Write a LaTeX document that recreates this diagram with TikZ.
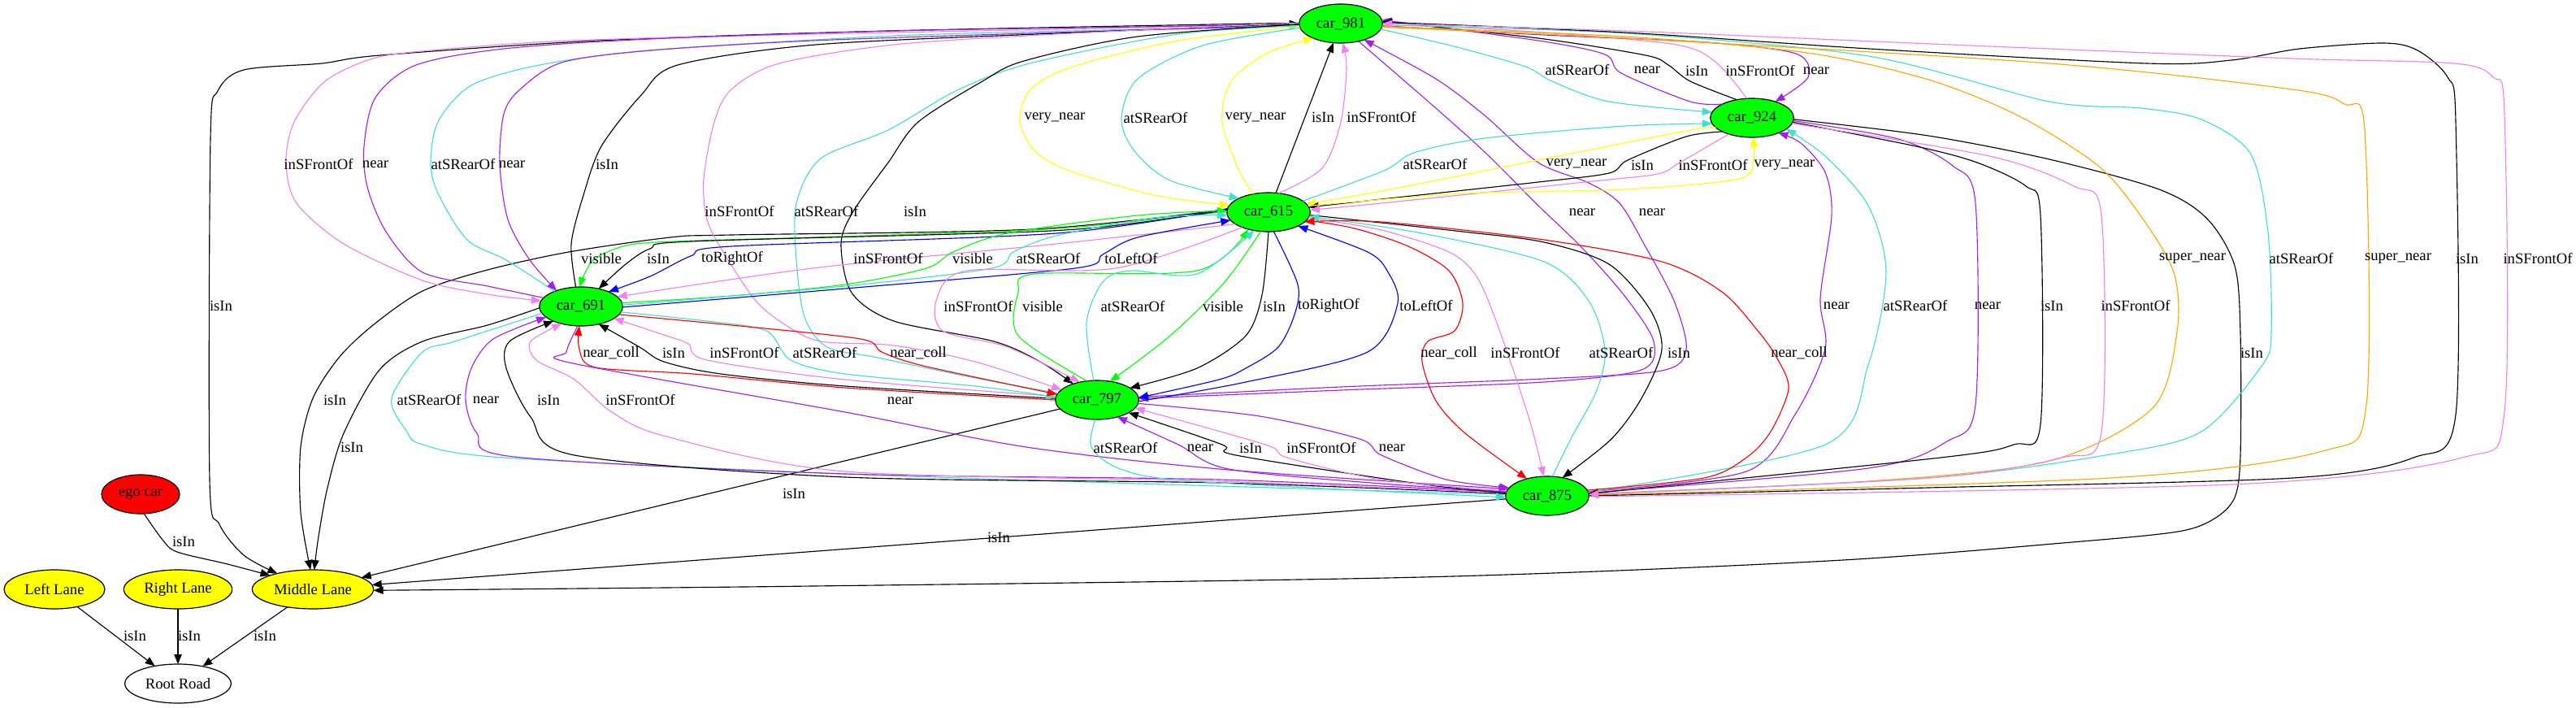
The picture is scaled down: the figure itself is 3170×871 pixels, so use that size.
\documentclass[tikz,border=0pt]{standalone}
\usepackage{fontspec}
\setmainfont{Liberation Serif}
\usetikzlibrary{arrows.meta,shapes.geometric}
\definecolor{gvpurple}{HTML}{A020F0}
\definecolor{gvviolet}{HTML}{EE82EE}
\definecolor{gvturq}{HTML}{40E0D0}
\definecolor{gvgreen}{HTML}{00FF00}
\definecolor{gvyellow}{HTML}{FFFF00}
\definecolor{gvorange}{HTML}{FFA500}
\definecolor{gvred}{HTML}{FF0000}
\definecolor{gvblue}{HTML}{0000FF}
\newcounter{lb}
\newcommand\edgelab[3]{\stepcounter{lb}\node[lbl] (lb\thelb) at (#1,#2) {#3};}
\begin{document}
\begin{tikzpicture}[x=0.75pt,y=-0.75pt,
  every node/.style={font=\fontsize{14}{16}\selectfont},
  gvnode/.style={ellipse,draw,line width=0.9pt,inner sep=0pt,outer sep=0pt,minimum height=36pt},
  car/.style={gvnode,fill=gvgreen,minimum width=77pt},
  lane/.style={gvnode,fill=gvyellow},
  lbl/.style={inner sep=0pt},
  e/.style={line width=0.85pt,-{Triangle[length=9pt,width=7pt]}},
  blk/.style={draw=black,color=black},
  vio/.style={color=gvviolet},
  pur/.style={color=gvpurple},
  tur/.style={color=gvturq},
  yel/.style={color=gvyellow},
  grn/.style={color=gvgreen},
  blu/.style={color=gvblue},
  rd/.style={color=gvred},
  ora/.style={color=gvorange}]
\useasboundingbox (0,0) rectangle (3170,871);
\fill[white] (0,0) rectangle (3170,871);

% nodes
\node[car] (c981) at (1650,29) {car\_981};
\node[car] (c924) at (2156,145) {car\_924};
\node[car] (c615) at (1561,261) {car\_615};
\node[car] (c691) at (715,377) {car\_691};
\node[car] (c797) at (1350,492) {car\_797};
\node[car] (c875) at (1904,610) {car\_875};
\node[gvnode,fill=gvred,minimum width=72pt] (ego) at (173,608) {ego car};
\node[lane,minimum width=93pt] (LL) at (67,725) {Left Lane};
\node[lane,minimum width=100pt] (RL) at (219,725) {Right Lane};
\node[lane,minimum width=112pt] (ML) at (385,725) {Middle Lane};
\node[gvnode,fill=white,minimum width=98pt] (RR) at (219,841) {Root Road};

% lanes
\draw[e] (LL) -- (RR);
\draw[e] (RL) -- (RR);
\draw[e] (ML) -- (RR);
\draw[e] plot[smooth] coordinates {(ego.-80) (200,664) (218,679) (280,694) (ML.162)};
\draw[e] (c797) -- (ML);
\draw[e] (c875) -- (ML);
\draw[e] plot[smooth] coordinates {(c981.179) (1093,38) (736,50) (468,68) (396,78) (300,86) (268,112) (259,170) (258,590) (270,645) (300,683) (ML.156)};
\draw[e] plot[smooth] coordinates {(c615.176) (1271,282) (900,289) (825,292) (700,310) (600,332) (520,358) (459,400) (417,440) (385,490) (370,550) (370,630) (ML.97)};
\draw[e] plot[smooth] coordinates {(c691.182) (600,400) (520,420) (467,455) (423,533) (403,600) (392,660) (ML.86)};
\draw[e] plot[smooth] coordinates {(c924.-2) (2373,167) (2522,196) (2657,233) (2716,269) (2750,327) (2757,410) (2757,560) (2750,612) (2725,638) (2680,654) (2550,667) (2250,690) (1750,710) (1000,721) (ML.-1)};

% 981-691
\draw[e,vio] plot[smooth] coordinates {(c981.180) (1300,36) (1000,42) (700,50) (530,62) (459,72) (400,100) (362,150) (352,200) (365,250) (423,300) (520,345) (600,362) (c691.172)};
\draw[e,pur] plot[smooth] coordinates {(c691.167) (600,352) (520,335) (475,285) (452,230) (448,180) (462,120) (512,80) (620,60) (800,48) (1100,38) (1400,33) (c981.181)};
\draw[e,tur] plot[smooth] coordinates {(c691.150) (623,320) (575,295) (540,240) (530,202) (539,150) (580,105) (664,80) (800,62) (1100,44) (1400,36) (c981.182)};
\draw[e,pur] plot[smooth] coordinates {(c981.183) (1300,40) (1000,50) (800,62) (691,77) (640,110) (620,140) (615,202) (625,270) (652,320) (c691.147)};
\draw[e,blk] plot[smooth] coordinates {(c691.105) (703,300) (718,240) (740,180) (789,117) (834,80) (1004,55) (1300,41) (c981.180)};

% 981-797
\draw[e,vio] plot[smooth] coordinates {(c981.179) (1300,42) (1100,55) (959,78) (900,110) (879,150) (866,220) (870,270) (890,310) (930,370) (967,400) (1010,420) (1100,425) (1200,445) (c797.164)};
\draw[e,tur] plot[smooth] coordinates {(c797.170) (1200,465) (1080,440) (1018,427) (990,390) (980,320) (980,250) (1010,195) (1093,160) (1180,110) (1271,77) (1450,42) (c981.183)};
\draw[e,blk] plot[smooth] coordinates {(c981.181) (1400,45) (1260,75) (1209,100) (1130,150) (1093,200) (1050,260) (1035,300) (1048,360) (1100,395) (1223,420) (1280,445) (c797.146)};
\draw[e,pur] plot[smooth] coordinates {(c981.-45) (1760,127) (1827,187) (1893,253) (1947,305) (2000,365) (2035,420) (2020,455) (1900,470) (1650,480) (c797.2)};
\draw[e,pur] plot[smooth] coordinates {(c797.4) (1650,476) (1900,466) (2045,456) (2075,430) (2060,370) (2023,300) (1993,250) (1955,225) (1893,200) (1827,142) (1767,97) (c981.-35)};

% 981-615
\draw[e,yel] plot[smooth] coordinates {(c981.184) (1450,50) (1320,82) (1268,110) (1255,150) (1275,187) (1316,210) (1420,240) (c615.170)};
\draw[e,tur] plot[smooth] coordinates {(c981.186) (1480,56) (1400,97) (1380,147) (1397,187) (1440,222) (c615.155)};
\draw[e,yel] plot[smooth] coordinates {(c615.130) (1525,210) (1504,150) (1515,100) (1560,65) (c981.-152)};
\draw[e,blk] (c615) -- (c981);
\draw[e,vio] plot[smooth] coordinates {(c615.62) (1627,207) (1650,150) (1657,83) (c981.-85)};

% 981-924
\draw[e,tur] plot[smooth] coordinates {(c981.-8) (1793,58) (1877,82) (1910,100) (1980,125) (c924.172)};
\draw[e,pur] plot[smooth] coordinates {(c924.155) (2080,125) (1995,90) (1975,67) (1893,50) (c981.5)};
\draw[e,blk] plot[smooth] coordinates {(c924.130) (2080,100) (2053,80) (2025,68) (1893,47) (c981.3)};
\draw[e,vio] plot[smooth] coordinates {(c924.105) (2112,77) (2063,55) (1900,40) (c981.1)};
\draw[e,pur] plot[smooth] coordinates {(c981.-3) (1900,43) (2100,52) (2210,66) (2225,95) (c924.35)};

% 615-924
\draw[e,tur] plot[smooth] coordinates {(c615.18) (1703,210) (1740,188) (1827,170) (2000,155) (c924.-172)};
\draw[e,yel] plot[smooth] coordinates {(c924.-165) (2080,160) (1893,197) (1700,235) (c615.12)};
\draw[e,blk] plot[smooth] coordinates {(c924.-155) (2075,168) (2003,197) (1980,213) (1893,224) (1700,245) (c615.7)};
\draw[e,vio] plot[smooth] coordinates {(c924.-145) (2067,200) (2040,214) (1960,223) (1700,250) (c615.3)};
\draw[e,yel] plot[smooth] coordinates {(c615.9) (1800,238) (2000,233) (2140,220) (2158,195) (c924.-88)};

% 981-875
\draw[e,ora] plot[smooth] coordinates {(c981.-4) (2000,45) (2224,65) (2373,98) (2485,143) (2582,204) (2634,265) (2675,335) (2679,408) (2649,502) (2522,567) (2299,592) (c875.3)};
\draw[e,tur] plot[smooth] coordinates {(c981.-2) (2000,41) (2299,69) (2522,125) (2634,133) (2709,147) (2770,190) (2791,286) (2795,408) (2784,449) (2709,531) (2597,559) (2373,588) (c875.2)};
\draw[e,ora] plot[smooth] coordinates {(c981.-5) (2000,47) (2522,78) (2821,110) (2885,128) (2910,160) (2912,498) (2858,555) (2597,588) (c875.1)};
\draw[e,blk] plot[smooth] coordinates {(c875.0) (2373,600) (2821,588) (2970,563) (3022,510) (3022,150) (3012,95) (2975,62) (2933,53) (2830,60) (2746,74) (2642,78) (2300,60) (2000,40) (c981.2)};
\draw[e,vio] plot[smooth] coordinates {(c875.-1) (2746,596) (3030,563) (3082,506) (3082,140) (3068,95) (3020,78) (2821,72) (2400,55) (2000,38) (c981.0)};

% 924-875
\draw[e,pur] plot[smooth] coordinates {(c875.6) (2149,580) (2209,510) (2246,429) (2240,367) (2254,265) (2246,212) (2216,176) (c924.-30)};
\draw[e,tur] plot[smooth] coordinates {(c875.5) (2246,547) (2299,449) (2321,335) (2299,253) (2246,192) (c924.-18)};
\draw[e,pur] plot[smooth] coordinates {(c924.-4) (2336,171) (2403,204) (2431,250) (2431,498) (2396,543) (2299,576) (c875.4)};
\draw[e,blk] plot[smooth] coordinates {(c924.-6) (2358,180) (2433,200) (2493,229) (2511,265) (2511,522) (2478,547) (2388,563) (c875.3)};
\draw[e,vio] plot[smooth] coordinates {(c924.-8) (2448,192) (2552,229) (2586,265) (2586,531) (2537,563) (2373,588) (c875.2)};

% 615-875
\draw[e,rd] plot[smooth] coordinates {(c615.-12) (1667,281) (1733,303) (1783,333) (1800,373) (1790,407) (1757,420) (1750,445) (1767,493) (1803,533) (c875.140)};
\draw[e,vio] plot[smooth] coordinates {(c615.-8) (1700,283) (1783,310) (1817,340) (1843,400) (1877,500) (1890,545) (c875.100)};
\draw[e,blk] plot[smooth] coordinates {(c615.-4) (1800,285) (1900,298) (1980,325) (2030,380) (2045,430) (2020,490) (1983,540) (c875.50)};
\draw[e,tur] plot[smooth] coordinates {(c875.75) (1933,540) (1965,480) (1975,430) (1955,370) (1900,322) (1750,287) (c615.-6)};
\draw[e,rd] plot[smooth] coordinates {(c875.8) (2097,588) (2149,563) (2179,531) (2201,478) (2187,441) (2164,408) (2119,359) (2045,322) (1900,295) (1700,273) (c615.-15)};

% 615-691
\draw[e,grn] plot[smooth] coordinates {(c615.179) (1400,272) (1271,283) (1000,292) (830,297) (771,302) (730,320) (c691.95)};
\draw[e,blk] plot[smooth] coordinates {(c615.177) (1400,274) (1271,285) (850,297) (800,306) (770,325) (c691.45)};
\draw[e,blu] plot[smooth] coordinates {(c615.175) (1300,287) (900,303) (850,315) (800,340) (c691.28)};
\draw[e,vio] plot[smooth] coordinates {(c615.-160) (1300,300) (1000,330) (c691.15)};
\draw[e,grn] plot[smooth] coordinates {(c691.5) (900,364) (1040,350) (1140,330) (1173,310) (1240,287) (1400,265) (c615.178)};
\draw[e,tur] plot[smooth] coordinates {(c691.2) (1040,352) (1220,330) (1247,310) (1300,290) (1420,268) (c615.-176)};
\draw[e,blu] plot[smooth] coordinates {(c691.-1) (1040,355) (1323,330) (1357,313) (1400,292) (c615.-168)};

% 615-797
\draw[e,vio] plot[smooth] coordinates {(c615.-150) (1373,330) (1190,333) (1153,367) (1160,407) (1240,427) (c797.134)};
\draw[e,grn] plot[smooth] coordinates {(c797.118) (1253,413) (1253,360) (1273,337) (1473,333) (c615.-140)};
\draw[e,tur] plot[smooth] coordinates {(c797.100) (1337,397) (1357,347) (1390,333) (1473,337) (c615.-128)};
\draw[e,grn] plot[smooth] coordinates {(c615.-112) (1507,347) (1440,413) (c797.55)};
\draw[e,blk] plot[smooth] coordinates {(c615.-90) (1553,363) (1533,413) (1473,453) (c797.20)};
\draw[e,blu] plot[smooth] coordinates {(c615.-75) (1597,350) (1593,387) (1573,427) (1533,453) (1500,467) (c797.3)};
\draw[e,blu] plot[smooth] coordinates {(c797.-2) (1533,470) (1683,433) (1720,373) (1707,333) (1683,310) (c615.-25)};

% 691-797
\draw[e,rd] plot[smooth] coordinates {(c797.180) (1040,477) (853,460) (733,452) (713,430) (c691.-95)};
\draw[e,blk] plot[smooth] coordinates {(c797.178) (1040,475) (887,460) (817,445) (787,427) (c691.-45)};
\draw[e,vio] plot[smooth] coordinates {(c797.175) (1040,467) (870,443) (847,423) (820,413) (c691.-20)};
\draw[e,tur] plot[smooth] coordinates {(c691.-8) (870,395) (943,407) (973,443) (1040,460) (1200,475) (c797.176)};
\draw[e,rd] plot[smooth] coordinates {(c691.-12) (900,400) (1059,417) (1085,433) (1136,450) (c797.172)};

% 691-875
\draw[e,tur] plot[smooth] coordinates {(c691.-170) (560,420) (520,433) (482,490) (500,530) (520,547) (620,563) (1040,583) (1500,598) (c875.178)};
\draw[e,pur] plot[smooth] coordinates {(c875.175) (1500,590) (1040,583) (633,562) (587,533) (573,493) (580,453) (607,417) (c691.-163)};
\draw[e,blk] plot[smooth] coordinates {(c875.177) (1500,594) (1040,587) (707,560) (653,513) (623,453) (627,420) (c691.-152)};
\draw[e,vio] plot[smooth] coordinates {(c875.176) (1500,592) (1040,580) (820,537) (753,507) (707,467) (660,443) (653,420) (c691.-138)};
\draw[e,pur] plot[smooth] coordinates {(c691.-100) (697,433) (705,447) (1040,507) (1263,550) (1512,578) (c875.170)};

% 797-875
\draw[e,tur] plot[smooth] coordinates {(c797.-95) (1343,550) (1379,577) (1468,592) (c875.-178)};
\draw[e,pur] plot[smooth] coordinates {(c875.174) (1700,595) (1512,577) (1450,547) (c797.-40)};
\draw[e,blk] plot[smooth] coordinates {(c875.176) (1745,595) (1521,560) (1504,547) (c797.-22)};
\draw[e,vio] plot[smooth] coordinates {(c875.173) (1700,590) (1584,563) (1557,547) (c797.-12)};
\draw[e,pur] plot[smooth] coordinates {(c797.-5) (1550,512) (1673,540) (1700,560) (1780,590) (c875.168)};

% labels
\edgelab{226}{666}{isIn}
\edgelab{166}{782}{isIn}
\edgelab{233}{782}{isIn}
\edgelab{326}{782}{isIn}
\edgelab{977}{607}{isIn}
\edgelab{1229}{661}{isIn}
\edgelab{2771}{434}{isIn}
\edgelab{272}{376}{isIn}
\edgelab{412}{492}{isIn}
\edgelab{433}{550}{isIn}
\edgelab{392}{202}{inSFrontOf}
\edgelab{462}{202}{near}
\edgelab{570}{202}{atSRearOf}
\edgelab{630}{202}{near}
\edgelab{747}{202}{isIn}
\edgelab{910}{260}{inSFrontOf}
\edgelab{1017}{260}{atSRearOf}
\edgelab{1126}{260}{isIn}
\edgelab{1947}{261}{near}
\edgelab{2033}{261}{near}
\edgelab{1298}{145}{very\_near}
\edgelab{1422}{145}{atSRearOf}
\edgelab{1545}{145}{very\_near}
\edgelab{1628}{144}{isIn}
\edgelab{1700}{144}{inSFrontOf}
\edgelab{1941}{86}{atSRearOf}
\edgelab{2027}{86}{near}
\edgelab{2088}{87}{isIn}
\edgelab{2166}{87}{inSFrontOf}
\edgelab{2235}{87}{near}
\edgelab{1766}{202}{atSRearOf}
\edgelab{1940}{202}{very\_near}
\edgelab{2021}{203}{isIn}
\edgelab{2108}{203}{inSFrontOf}
\edgelab{2196}{203}{very\_near}
\edgelab{2698}{318}{super\_near}
\edgelab{2832}{318}{atSRearOf}
\edgelab{2951}{318}{super\_near}
\edgelab{3036}{318}{isIn}
\edgelab{3123}{318}{inSFrontOf}
\edgelab{2260}{376}{near}
\edgelab{2357}{376}{atSRearOf}
\edgelab{2446}{376}{near}
\edgelab{2525}{376}{isIn}
\edgelab{2628}{376}{inSFrontOf}
\edgelab{1783}{434}{near\_coll}
\edgelab{1877}{434}{inSFrontOf}
\edgelab{2066}{434}{isIn}
\edgelab{1995}{434}{atSRearOf}
\edgelab{2214}{434}{near\_coll}
\edgelab{740}{318}{visible}
\edgelab{810}{318}{isIn}
\edgelab{901}{318}{toRightOf}
\edgelab{1093}{318}{inSFrontOf}
\edgelab{1197}{318}{visible}
\edgelab{1290}{318}{atSRearOf}
\edgelab{1392}{318}{toLeftOf}
\edgelab{1204}{377}{inSFrontOf}
\edgelab{1283}{377}{visible}
\edgelab{1394}{377}{atSRearOf}
\edgelab{1505}{377}{visible}
\edgelab{1568}{377}{isIn}
\edgelab{1635}{376}{toRightOf}
\edgelab{1755}{376}{toLeftOf}
\edgelab{752}{434}{near\_coll}
\edgelab{829}{434}{isIn}
\edgelab{916}{434}{inSFrontOf}
\edgelab{1015}{434}{atSRearOf}
\edgelab{1130}{434}{near\_coll}
\edgelab{528}{492}{atSRearOf}
\edgelab{598}{492}{near}
\edgelab{675}{492}{isIn}
\edgelab{788}{492}{inSFrontOf}
\edgelab{1108}{493}{near}
\edgelab{1385}{551}{atSRearOf}
\edgelab{1477}{551}{near}
\edgelab{1539}{551}{isIn}
\edgelab{1626}{551}{inSFrontOf}
\edgelab{1713}{551}{near}
\end{tikzpicture}
\end{document}
